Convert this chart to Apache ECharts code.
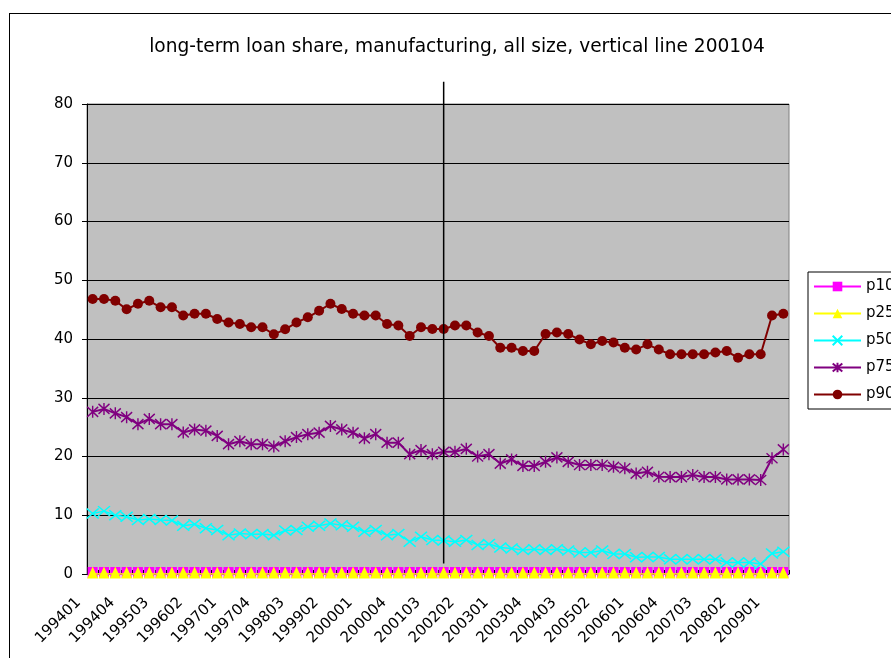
<!DOCTYPE html>
<html>
<head>
<meta charset="utf-8">
<script src="https://cdn.jsdelivr.net/npm/echarts@6/dist/echarts.min.js"></script>
<style>
    html, body { margin: 0; padding: 0; background: #fff; }
    #wrap { position: relative; width: 891px; height: 658px; overflow: hidden; }
    #frame { position: absolute; left: 9px; top: 13px; width: 1000px; height: 1000px; border: 1px solid #000; box-sizing: border-box; }
    #chart { position: absolute; left: 0; top: 0; width: 891px; height: 658px; }
</style>
</head>
<body>
<div id="wrap">
    <div id="frame"></div>
    <div id="chart"></div>
</div>
<script>
    // quarters 199401 .. 200902
    var quarters = [
        '199401','199402','199403','199404','199501','199502','199503','199504',
        '199601','199602','199603','199604','199701','199702','199703','199704',
        '199801','199802','199803','199804','199901','199902','199903','199904',
        '200001','200002','200003','200004','200101','200102','200103','200104',
        '200201','200202','200203','200204','200301','200302','200303','200304',
        '200401','200402','200403','200404','200501','200502','200503','200504',
        '200601','200602','200603','200604','200701','200702','200703','200704',
        '200801','200802','200803','200804','200901','200902'
    ];

    var p10 = [
        0,0,0,0,0,0,0,0,0,0,0,0,0,0,0,0,0,0,0,0,0,0,0,0,0,0,0,0,0,0,0,
        0,0,0,0,0,0,0,0,0,0,0,0,0,0,0,0,0,0,0,0,0,0,0,0,0,0,0,0,0,0,0
    ];
    var p25 = [
        0,0,0,0,0,0,0,0,0,0,0,0,0,0,0,0,0,0,0,0,0,0,0,0,0,0,0,0,0,0,0,
        0,0,0,0,0,0,0,0,0,0,0,0,0,0,0,0,0,0,0,0,0,0,0,0,0,0,0,0,0,0,0
    ];
    var p50 = [
        10.3, 10.7, 10.0, 9.75, 9.2, 9.35, 9.2, 9.1, 8.2, 8.45, 7.8, 7.5, 6.6, 6.9, 6.75, 6.8,
        6.6, 7.4, 7.5, 8.05, 8.2, 8.6, 8.3, 8.05, 7.2, 7.5, 6.6, 6.8, 5.5, 6.35, 5.8, 5.7,
        5.5, 5.8, 4.95, 5.1, 4.5, 4.35, 4.1, 4.2, 4.1, 4.2, 4.0, 3.65, 3.65, 4.0, 3.4, 3.4,
        2.85, 2.9, 2.9, 2.5, 2.5, 2.5, 2.5, 2.5, 1.95, 1.95, 1.95, 1.7, 3.5, 3.8
    ];
    var p75 = [
        27.6, 28.1, 27.35, 26.7, 25.5, 26.4, 25.5, 25.5, 24.1, 24.6, 24.4, 23.5, 22.1, 22.6, 22.1, 22.1,
        21.7, 22.6, 23.3, 23.8, 24.05, 25.2, 24.6, 24.05, 23.1, 23.8, 22.35, 22.35, 20.4, 21.1, 20.4, 20.8,
        20.8, 21.3, 20.0, 20.4, 18.8, 19.5, 18.4, 18.4, 19.1, 19.85, 19.1, 18.55, 18.55, 18.55, 18.25, 18.0,
        17.1, 17.4, 16.55, 16.5, 16.5, 16.85, 16.5, 16.5, 16.1, 16.1, 16.1, 16.0, 19.7, 21.2
    ];
    var p90 = [
        46.8, 46.8, 46.5, 45.05, 46.0, 46.5, 45.4, 45.4, 44.0, 44.3, 44.3, 43.4, 42.8, 42.55, 42.0, 42.0,
        40.8, 41.65, 42.8, 43.7, 44.8, 46.0, 45.1, 44.3, 44.0, 44.0, 42.55, 42.3, 40.5, 42.0, 41.7, 41.7,
        42.3, 42.3, 41.1, 40.5, 38.5, 38.5, 37.95, 37.95, 40.85, 41.1, 40.85, 39.9, 39.1, 39.65, 39.4, 38.5,
        38.2, 39.1, 38.2, 37.4, 37.4, 37.4, 37.4, 37.7, 37.95, 36.8, 37.4, 37.4, 44.0, 44.3
    ];

    // vertical line at 200104
    var vlineQuarter = '200104';
    var vlineRange = [1.8, 83.8];

    var seriesNames = ['p10', 'p25', 'p50', 'p75', 'p90'];

    var xMark = 'path://M0,0 L10,10 M10,0 L0,10';
    var starMark = 'path://M0,0 L10,10 M10,0 L0,10 M5,-1 L5,11';

    var myChart = echarts.init(document.getElementById('chart'));
    myChart.setOption({
        animation: false,
        title: {
            text: 'long-term loan share, manufacturing, all size, vertical line 200104',
            left: 452,
            textAlign: 'center',
            top: 33,
            textStyle: {
                fontFamily: 'DejaVu Sans',
                fontSize: 18.6,
                fontWeight: 'normal',
                color: '#000'
            }
        },
        legend: {
            data: seriesNames,
            orient: 'vertical',
            left: 808,
            top: 272,
            backgroundColor: '#fff',
            borderColor: '#000',
            borderWidth: 1,
            borderRadius: 0,
            padding: [7, 40, 7, 5],
            itemWidth: 47,
            itemHeight: 12,
            itemGap: 12,
            textStyle: {
                fontFamily: 'DejaVu Sans',
                fontSize: 15,
                color: '#000'
            }
        },
        grid: {
            left: 87,
            top: 104,
            right: 102,
            bottom: 84,
            show: true,
            backgroundColor: '#c0c0c0',
            borderColor: '#808080',
            borderWidth: 1
        },
        xAxis: {
            type: 'category',
            data: quarters,
            boundaryGap: true,
            axisLine: { lineStyle: { color: '#000', width: 1 } },
            axisTick: { show: true, inside: true, length: 4, interval: 0, lineStyle: { color: '#000' } },
            axisLabel: {
                interval: 2,
                rotate: 45,
                margin: 12,
                padding: [0, 20, 0, 0],
                fontFamily: 'DejaVu Sans',
                fontSize: 15,
                color: '#000'
            },
            splitLine: { show: false }
        },
        yAxis: {
            type: 'value',
            min: 0,
            max: 80,
            interval: 10,
            axisLine: { show: true, lineStyle: { color: '#000', width: 1 } },
            axisTick: { show: true, length: 5, lineStyle: { color: '#000' } },
            axisLabel: {
                margin: 14,
                fontFamily: 'DejaVu Sans',
                fontSize: 15,
                color: '#000'
            },
            splitLine: { show: true, lineStyle: { color: '#000', width: 1 } }
        },
        series: [
            {
                name: 'p10',
                type: 'line',
                data: p10,
                showAllSymbol: true,
                symbol: 'rect',
                symbolSize: [10, 11],
                symbolOffset: [0, -1.5],
                lineStyle: { color: '#ff00ff', width: 1.5 },
                itemStyle: { color: '#ff00ff' },
                z: 2
            },
            {
                name: 'p25',
                type: 'line',
                data: p25,
                showAllSymbol: true,
                symbol: 'triangle',
                symbolSize: [11, 12],
                symbolOffset: [0, -1.5],
                lineStyle: { color: '#ffff00', width: 1.5 },
                itemStyle: { color: '#ffff00' },
                z: 3
            },
            {
                name: 'p50',
                type: 'line',
                data: p50,
                showAllSymbol: true,
                symbol: xMark,
                symbolSize: [12, 10],
                lineStyle: { color: '#00ffff', width: 1.5 },
                itemStyle: { color: 'rgba(0,0,0,0)', borderColor: '#00ffff', borderWidth: 1.5 },
                z: 4
            },
            {
                name: 'p75',
                type: 'line',
                data: p75,
                showAllSymbol: true,
                symbol: starMark,
                symbolSize: [11, 12],
                lineStyle: { color: '#800080', width: 2 },
                itemStyle: { color: 'rgba(0,0,0,0)', borderColor: '#800080', borderWidth: 1.5 },
                z: 5
            },
            {
                name: 'p90',
                type: 'line',
                data: p90,
                showAllSymbol: true,
                symbol: 'circle',
                symbolSize: 10,
                lineStyle: { color: '#800000', width: 2 },
                itemStyle: { color: '#800000' },
                z: 6
            },
            {
                name: 'vline',
                type: 'line',
                data: [[vlineQuarter, vlineRange[0]], [vlineQuarter, vlineRange[1]]],
                symbol: 'none',
                clip: false,
                silent: true,
                lineStyle: { color: '#000', width: 1.5 },
                z: 7
            }
        ]
    });
</script>
</body>
</html>
